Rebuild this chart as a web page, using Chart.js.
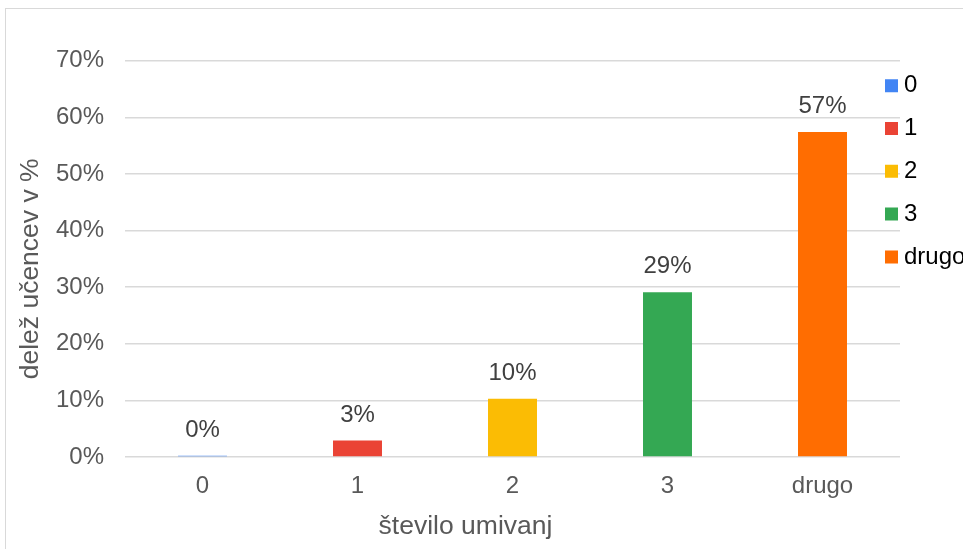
<!DOCTYPE html>
<html><head><meta charset="utf-8">
<script src="https://cdn.jsdelivr.net/npm/chart.js@4"></script>
<style>
html,body{margin:0;padding:0;width:963px;height:549px;overflow:hidden;background:#fff;}
#frame{position:absolute;left:5px;top:8px;width:2000px;height:2000px;border:1.5px solid #d9d9d9;box-sizing:border-box;}
#c{position:absolute;left:0;top:0;}
</style></head><body>
<div id="frame"></div>
<canvas id="c" width="963" height="549"></canvas>
<script>
const categories = ['0', '1', '2', '3', 'drugo'];
const shares = [0.2, 2.9, 10.3, 29.1, 57.4];
const barColors = ['#4285F4', '#EA4335', '#FBBC04', '#34A853', '#FF6D01'];
const yTicks = [0, 10, 20, 30, 40, 50, 60, 70];
const xTitle = 'število umivanj';
const yTitle = 'delež učencev v %';

const FONT = '"Liberation Sans", Arial, sans-serif';
Chart.defaults.font.family = FONT;

const valueLabels = {
  id: 'valueLabels',
  afterDatasetsDraw(chart) {
    const ctx = chart.ctx;
    const meta = chart.getDatasetMeta(0);
    ctx.save();
    ctx.font = '24px ' + FONT;
    ctx.fillStyle = '#404040';
    ctx.textAlign = 'center';
    ctx.textBaseline = 'middle';
    meta.data.forEach((bar, i) => {
      ctx.fillText(Math.round(shares[i]) + '%', bar.x, bar.y - 25.5);
    });
    ctx.restore();
  }
};

const legendPlace = {
  id: 'legendPlace',
  beforeLayout(chart) {
    const lg = chart.legend;
    if (lg && !lg._fitPatched) {
      const orig = lg.fit;
      lg.fit = function () { orig.call(this); this.width = 63; };
      lg._fitPatched = true;
    }
  },
  afterLayout(chart) {
    const lg = chart.legend;
    if (lg) {
      lg.left = 872.2; lg.right = 963; lg.width = lg.right - lg.left;
      lg.top = 54.9; lg.bottom = 549; lg.height = lg.bottom - lg.top;
    }
    // shift axis titles to where the reference places them
    const shifts = { x: [-47, 0], y: [0, 10] };
    Object.keys(shifts).forEach(id => {
      const s = chart.scales[id];
      if (s && !s._titlePatched) {
        const o = s.drawTitle;
        s.drawTitle = function () {
          this.ctx.save();
          this.ctx.translate(shifts[id][0], shifts[id][1]);
          o.call(this);
          this.ctx.restore();
        };
        s._titlePatched = true;
      }
    });
  }
};

new Chart(document.getElementById('c'), {
  type: 'bar',
  data: {
    labels: categories,
    datasets: [{
      data: shares,
      backgroundColor: barColors,
      borderWidth: 0,
      barPercentage: 0.316,
      categoryPercentage: 1
    }]
  },
  options: {
    responsive: false,
    animation: false,
    layout: { padding: { top: 60.7, left: 0, right: 0, bottom: 0 } },
    plugins: {
      tooltip: { enabled: false },
      legend: {
        position: 'right',
        align: 'start',
        labels: {
          font: { size: 24, family: FONT },
          color: '#595959',
          usePointStyle: true,
          pointStyle: 'rect',
          boxWidth: 1,
          boxHeight: 13,
          padding: 18.8,
          generateLabels: () => categories.map((c, i) => ({
            text: c,
            fillStyle: barColors[i],
            strokeStyle: barColors[i],
            lineWidth: 0,
            pointStyle: 'rect',
            hidden: false,
            index: i
          }))
        }
      }
    },
    scales: {
      x: {
        grid: { display: false, drawTicks: false },
        border: { display: false },
        ticks: { color: '#595959', font: { size: 24 }, padding: 15 },
        title: { display: true, text: xTitle, color: '#595959', font: { size: 26.5 }, padding: { top: 0, bottom: 6.6 } },
        afterFit: s => { s.height = 92; }
      },
      y: {
        min: 0,
        max: 70,
        afterBuildTicks: s => { s.ticks = yTicks.map(v => ({ value: v })); },
        grid: { color: '#d9d9d9', lineWidth: 1.5, drawTicks: false },
        border: { display: false },
        ticks: { color: '#595959', font: { size: 24 }, padding: 21, callback: v => v + '%' },
        title: { display: true, text: yTitle, color: '#595959', font: { size: 26.5 }, padding: { top: 15, bottom: 0 } },
        afterFit: s => { s.width = 125; }
      }
    }
  },
  plugins: [valueLabels, legendPlace]
});
</script>
</body></html>
